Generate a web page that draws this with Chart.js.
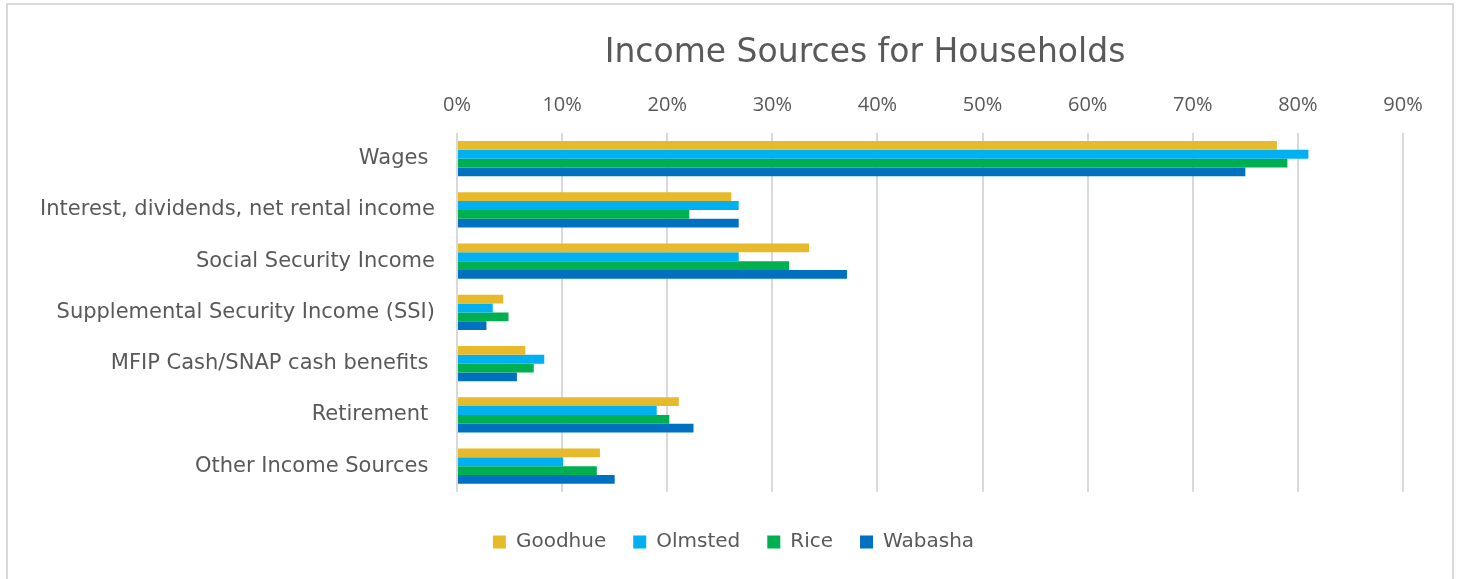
<!DOCTYPE html>
<html>
<head>
<meta charset="utf-8">
<script src="https://cdn.jsdelivr.net/npm/chart.js@4"></script>
<style>
  body { margin: 0; background: #fff; overflow: hidden; }
  #wrap { position: absolute; left: 0; top: 0; width: 1458px; height: 579px; }
  #frame { position: absolute; left: 6px; top: 3px; width: 1444px; height: 590px; border: 2px solid #d9d9d9; pointer-events: none; }
</style>
</head>
<body>
<div id="wrap"><canvas id="incomeChart"></canvas></div>
<div id="frame"></div>
<script>
const categories = [
    'Wages ',
    'Interest, dividends, net rental income',
    'Social Security Income',
    'Supplemental Security Income (SSI)',
    'MFIP Cash/SNAP cash benefits ',
    'Retirement ',
    'Other Income Sources '
];
const goodhue = [78.0, 26.1, 33.5, 4.4, 6.5, 21.1, 13.6];
const olmsted = [81.0, 26.8, 26.8, 3.4, 8.3, 19.0, 10.1];
const rice = [79.0, 22.1, 31.6, 4.9, 7.3, 20.2, 13.3];
const wabasha = [75.0, 26.8, 37.1, 2.8, 5.7, 22.5, 15.0];
const chartTitle = 'Income Sources for Households';

const labelFont = '"DejaVu Sans", sans-serif';
const tickFont = '"Open Sans", sans-serif';
const textColor = '#595959';

// title sits off-centre in the original, so draw it ourselves
const titlePlugin = {
    id: 'offsetTitle',
    afterLayout(chart) {
        // legend is centred on the whole canvas in the original, nudge it
        if (chart.legend) {
            chart.legend.left += 32;
            chart.legend.right += 32;
        }
    },
    afterDraw(chart) {
        const c = chart.ctx;
        c.save();
        c.font = '33px ' + labelFont;
        c.fillStyle = textColor;
        c.textAlign = 'center';
        c.textBaseline = 'middle';
        c.fillText(chartTitle, 865, 53);
        c.restore();
    }
};

document.addEventListener('DOMContentLoaded', function () {
    const ctx = document.getElementById('incomeChart').getContext('2d');
    new Chart(ctx, {
        type: 'bar',
        data: {
            labels: categories,
            datasets: [
                { label: 'Goodhue', data: goodhue, backgroundColor: '#E6BA2A' },
                { label: 'Olmsted', data: olmsted, backgroundColor: '#00B0F0' },
                { label: 'Rice', data: rice, backgroundColor: '#00B050' },
                { label: 'Wabasha', data: wabasha, backgroundColor: '#0070C0' }
            ]
        },
        plugins: [titlePlugin],
        options: {
            indexAxis: 'y',
            responsive: true,
            maintainAspectRatio: false,
            animation: false,
            datasets: {
                bar: { categoryPercentage: 0.69, barPercentage: 1.0 }
            },
            layout: { padding: { left: 0, right: 55, top: 77, bottom: 17 } },
            scales: {
                x: {
                    position: 'top',
                    min: 0,
                    max: 90,
                    ticks: {
                        stepSize: 10,
                        callback: (v) => v + '%',
                        color: textColor,
                        font: { family: tickFont, size: 20 },
                        padding: 16
                    },
                    grid: { color: '#d9d9d9', lineWidth: 2, drawTicks: false },
                    border: { display: false }
                },
                y: {
                    ticks: {
                        color: textColor,
                        font: { family: labelFont, size: 21 },
                        padding: 22
                    },
                    grid: { display: false, drawTicks: false },
                    border: { display: false },
                    afterFit: (scale) => { scale.width = 457; }
                }
            },
            plugins: {
                title: { display: false },
                legend: {
                    position: 'bottom',
                    title: {
                        display: true,
                        text: ' ',
                        font: { size: 1 },
                        padding: { top: 12, bottom: 0 }
                    },
                    labels: {
                        color: textColor,
                        font: { family: labelFont, size: 20 },
                        boxWidth: 13,
                        boxHeight: 13,
                        padding: 27
                    }
                },
                tooltip: {
                    callbacks: {
                        label: (item) => `${item.dataset.label}: ${item.raw}%`
                    }
                }
            }
        }
    });
});
</script>
</body>
</html>
